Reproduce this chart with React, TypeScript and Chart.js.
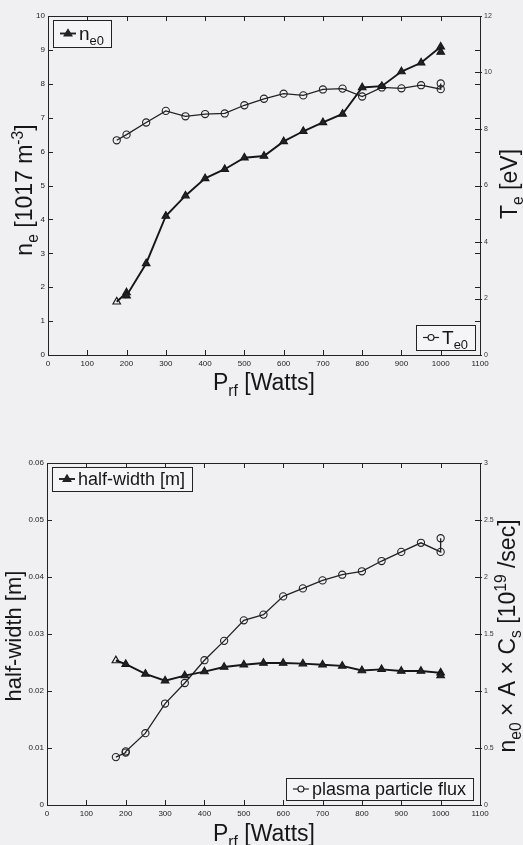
import React, { useEffect, useRef } from "react";
import { Chart, registerables } from "chart.js";

Chart.register(...registerables);

// ---------- data (top panel) ----------
const powerNe = [175, 200, 200, 250, 300, 350, 400, 450, 500, 550, 600, 650, 700, 750, 800, 850, 900, 950, 1000, 1000];
const ne0 = [1.57, 1.84, 1.75, 2.7, 4.1, 4.7, 5.21, 5.48, 5.82, 5.87, 6.3, 6.6, 6.86, 7.11, 7.89, 7.93, 8.36, 8.62, 9.09, 8.94];
const powerTe = [175, 200, 250, 300, 350, 400, 450, 500, 550, 600, 650, 700, 750, 800, 850, 900, 950, 1000, 1000];
const te0 = [7.6, 7.8, 8.23, 8.64, 8.45, 8.53, 8.55, 8.84, 9.07, 9.25, 9.19, 9.4, 9.43, 9.15, 9.47, 9.44, 9.55, 9.41, 9.61];

// ---------- data (bottom panel) ----------
const powerHw = [175, 200, 250, 300, 350, 400, 450, 500, 550, 600, 650, 700, 750, 800, 850, 900, 950, 1000, 1000];
const halfWidth = [0.02535, 0.0247, 0.023, 0.0218, 0.0227, 0.0234, 0.0242, 0.0246, 0.0249, 0.0249, 0.0248, 0.0246, 0.0244, 0.0236, 0.0238, 0.0235, 0.0235, 0.0232, 0.0227];
const powerFlux = [175, 200, 200, 250, 300, 350, 400, 450, 500, 550, 600, 650, 700, 750, 800, 850, 900, 950, 1000, 1000];
const flux = [0.42, 0.46, 0.47, 0.63, 0.89, 1.07, 1.27, 1.44, 1.62, 1.67, 1.83, 1.9, 1.97, 2.02, 2.05, 2.14, 2.22, 2.3, 2.22, 2.34];

// ---------- tick values ----------
const xTickVals = [0, 100, 200, 300, 400, 500, 600, 700, 800, 900, 1000, 1100];
const neTickVals = [0, 1, 2, 3, 4, 5, 6, 7, 8, 9, 10];
const teTickVals = [0, 2, 4, 6, 8, 10, 12];
const hwTickVals = [0, 0.01, 0.02, 0.03, 0.04, 0.05, 0.06];
const fluxTickVals = [0, 0.5, 1, 1.5, 2, 2.5, 3];

const FONT = '"Liberation Sans", Arial, Helvetica, sans-serif';
const BG = "#f0f0f2";
const INK = "#161616";

type Part = { t: string; s?: "sub" | "sup" };

function partSize(p: Part, size: number) {
  return p.s ? size * 0.68 : size;
}
function setFont(ctx: CanvasRenderingContext2D, size: number) {
  ctx.font = `${size}px ${FONT}`;
}
function richWidth(ctx: CanvasRenderingContext2D, parts: Part[], size: number) {
  let w = 0;
  for (const p of parts) {
    setFont(ctx, partSize(p, size));
    w += ctx.measureText(p.t).width;
  }
  return w;
}
function drawRich(ctx: CanvasRenderingContext2D, parts: Part[], x: number, y: number, size: number, align: "left" | "center") {
  let cx = align === "center" ? x - richWidth(ctx, parts, size) / 2 : x;
  ctx.textAlign = "left";
  ctx.textBaseline = "alphabetic";
  ctx.fillStyle = INK;
  for (const p of parts) {
    const s = partSize(p, size);
    setFont(ctx, s);
    const dy = p.s === "sub" ? size * 0.24 : p.s === "sup" ? -size * 0.38 : 0;
    ctx.fillText(p.t, cx, y + dy);
    cx += ctx.measureText(p.t).width;
  }
}

function drawMarker(ctx: CanvasRenderingContext2D, kind: "tri" | "circ", x: number, y: number) {
  ctx.beginPath();
  if (kind === "tri") {
    const r = 4.2;
    ctx.moveTo(x, y - r);
    ctx.lineTo(x + r * 0.95, y + r * 0.6);
    ctx.lineTo(x - r * 0.95, y + r * 0.6);
    ctx.closePath();
    ctx.fillStyle = "#222";
    ctx.fill();
    ctx.stroke();
  } else {
    ctx.arc(x, y, 3, 0, Math.PI * 2);
    ctx.fillStyle = "#f5f5f7";
    ctx.fill();
    ctx.stroke();
  }
}

type LegendSpec = {
  corner: "tl" | "br";
  ox: number;
  oy: number;
  h: number;
  size: number;
  parts: Part[];
  marker: "tri" | "circ";
  lineW: number;
};

type TitleSpec = { parts: Part[]; size: number; x: number; y: number; rotate: boolean };

function makeFramePlugin(legends: LegendSpec[], titles: TitleSpec[]) {
  return {
    id: "frame",
    beforeDraw(chart: any) {
      const { ctx, width, height } = chart;
      ctx.save();
      ctx.fillStyle = BG;
      ctx.fillRect(0, 0, width, height);
      ctx.restore();
    },
    afterDraw(chart: any) {
      const { ctx, chartArea: a, scales } = chart;
      ctx.save();
      ctx.strokeStyle = "#222";
      ctx.lineWidth = 1;
      ctx.strokeRect(Math.round(a.left) + 0.5, Math.round(a.top) + 0.5, Math.round(a.width), Math.round(a.height));
      const line = (x1: number, y1: number, x2: number, y2: number) => {
        ctx.beginPath();
        ctx.moveTo(x1, y1);
        ctx.lineTo(x2, y2);
        ctx.stroke();
      };
      const T = 5;
      for (const t of scales.x.ticks) {
        const px = Math.round(scales.x.getPixelForValue(t.value)) + 0.5;
        line(px, a.bottom, px, a.bottom - T);
        line(px, a.top, px, a.top + T);
      }
      for (const t of scales.y.ticks) {
        const py = Math.round(scales.y.getPixelForValue(t.value)) + 0.5;
        line(a.left, py, a.left + T, py);
        line(a.right, py, a.right - T, py);
      }
      for (const t of scales.y2.ticks) {
        const py = Math.round(scales.y2.getPixelForValue(t.value)) + 0.5;
        line(a.right - T, py, a.right + 2, py);
      }
      // legends
      for (const L of legends) {
        const tw = richWidth(ctx, L.parts, L.size);
        const w = 26 + tw + 7;
        const bx = L.corner === "tl" ? a.left + L.ox : a.right - L.ox - w;
        const by = L.corner === "tl" ? a.top + L.oy : a.bottom - L.oy - L.h;
        ctx.fillStyle = "#f5f5f7";
        ctx.fillRect(bx, by, w, L.h);
        ctx.strokeStyle = "#222";
        ctx.lineWidth = 1;
        ctx.strokeRect(Math.round(bx) + 0.5, Math.round(by) + 0.5, Math.round(w), L.h);
        const my = by + L.h / 2;
        ctx.lineWidth = L.lineW;
        line(bx + 7, my, bx + 23, my);
        ctx.lineWidth = 1.1;
        drawMarker(ctx, L.marker, bx + 15, my);
        drawRich(ctx, L.parts, bx + 26, my + L.size * 0.35, L.size, "left");
      }
      // axis titles
      for (const t of titles) {
        if (t.rotate) {
          ctx.save();
          ctx.translate(t.x, t.y);
          ctx.rotate(-Math.PI / 2);
          drawRich(ctx, t.parts, 0, 0, t.size, "center");
          ctx.restore();
        } else {
          drawRich(ctx, t.parts, t.x, t.y, t.size, "center");
        }
      }
      ctx.restore();
    },
  };
}

const tickFont = { family: FONT, size: 8 };
const tickFontSmall = { family: FONT, size: 7 };

function fixedTicks(vals: number[]) {
  return (scale: any) => {
    scale.ticks = vals.map((v) => ({ value: v }));
  };
}

function makeConfig(p: {
  datasets: any[];
  yMax: number;
  y2Max: number;
  yTicks: number[];
  y2Ticks: number[];
  yFmt: (v: number) => string;
  y2Fmt: (v: number) => string;
  padTop: number;
  xH: number;
  yW: number;
  y2W: number;
  plugin: any;
}) {
  return {
    type: "line" as const,
    data: { datasets: p.datasets },
    options: {
      responsive: false,
      animation: false as const,
      layout: { padding: { top: p.padTop, left: 0, right: 0, bottom: 0 } },
      plugins: { legend: { display: false }, tooltip: { enabled: false }, title: { display: false } },
      elements: { line: { tension: 0 } },
      scales: {
        x: {
          type: "linear" as const,
          min: 0,
          max: 1100,
          grid: { display: false, drawTicks: false },
          border: { display: false },
          afterBuildTicks: fixedTicks(xTickVals),
          afterFit: (s: any) => {
            s.height = p.xH;
          },
          ticks: { font: tickFont, color: "#222", padding: 4, maxRotation: 0, autoSkip: false, callback: (v: any) => String(v) },
        },
        y: {
          type: "linear" as const,
          position: "left" as const,
          min: 0,
          max: p.yMax,
          grid: { display: false, drawTicks: false },
          border: { display: false },
          afterBuildTicks: fixedTicks(p.yTicks),
          afterFit: (s: any) => {
            s.width = p.yW;
          },
          ticks: { font: tickFont, color: "#222", padding: 3, autoSkip: false, callback: (v: any) => p.yFmt(Number(v)) },
        },
        y2: {
          type: "linear" as const,
          position: "right" as const,
          min: 0,
          max: p.y2Max,
          grid: { display: false, drawTicks: false },
          border: { display: false },
          afterBuildTicks: fixedTicks(p.y2Ticks),
          afterFit: (s: any) => {
            s.width = p.y2W;
          },
          ticks: { font: tickFontSmall, color: "#333", padding: 4, autoSkip: false, callback: (v: any) => p.y2Fmt(Number(v)) },
        },
      },
    },
    plugins: [p.plugin],
  };
}

function pts(xs: number[], ys: number[]) {
  return xs.map((x, i) => ({ x, y: ys[i] }));
}

const triStyle = {
  borderColor: INK,
  borderWidth: 1.9,
  pointStyle: "triangle",
  pointRadius: 4.4,
  pointBorderWidth: 1.1,
  pointBorderColor: INK,
  pointBackgroundColor: (c: any) => (c.dataIndex === 0 ? "rgba(0,0,0,0)" : "#222"),
};
const circStyle = {
  borderColor: "#222",
  borderWidth: 1.3,
  pointStyle: "circle",
  pointRadius: 3.6,
  pointBorderWidth: 1.1,
  pointBorderColor: "#222",
  pointBackgroundColor: "rgba(0,0,0,0)",
};

export default function App() {
  const topRef = useRef<HTMLCanvasElement | null>(null);
  const botRef = useRef<HTMLCanvasElement | null>(null);

  useEffect(() => {
    if (!topRef.current || !botRef.current) return;

    const topPlugin = makeFramePlugin(
      [
        { corner: "tl", ox: 5, oy: 4, h: 27, size: 19, parts: [{ t: "n" }, { t: "e0", s: "sub" }], marker: "tri", lineW: 1.9 },
        { corner: "br", ox: 5, oy: 5, h: 25, size: 19, parts: [{ t: "T" }, { t: "e0", s: "sub" }], marker: "circ", lineW: 1.2 },
      ],
      [
        { parts: [{ t: "P" }, { t: "rf", s: "sub" }, { t: " [Watts]" }], size: 23, x: 264, y: 390, rotate: false },
        { parts: [{ t: "n" }, { t: "e", s: "sub" }, { t: " [1017 m" }, { t: "-3", s: "sup" }, { t: "]" }], size: 23, x: 32, y: 190, rotate: true },
        { parts: [{ t: "T" }, { t: "e", s: "sub" }, { t: " [eV]" }], size: 23, x: 517, y: 184, rotate: true },
      ]
    );

    const botPlugin = makeFramePlugin(
      [
        { corner: "tl", ox: 5, oy: 4, h: 24, size: 18, parts: [{ t: "half-width [m]" }], marker: "tri", lineW: 1.9 },
        { corner: "br", ox: 7, oy: 5, h: 22, size: 18, parts: [{ t: "plasma particle flux" }], marker: "circ", lineW: 1.2 },
      ],
      [
        { parts: [{ t: "P" }, { t: "rf", s: "sub" }, { t: " [Watts]" }], size: 23, x: 264, y: 421, rotate: false },
        { parts: [{ t: "half-width [m]" }], size: 22, x: 21, y: 216, rotate: true },
        {
          parts: [{ t: "n" }, { t: "e0", s: "sub" }, { t: " × A × C" }, { t: "s", s: "sub" }, { t: " [10" }, { t: "19", s: "sup" }, { t: " /sec]" }],
          size: 23,
          x: 515,
          y: 216,
          rotate: true,
        },
      ]
    );

    const top = new Chart(
      topRef.current,
      makeConfig({
        datasets: [
          { label: "ne0", data: pts(powerNe, ne0), yAxisID: "y", ...triStyle },
          { label: "Te0", data: pts(powerTe, te0), yAxisID: "y2", ...circStyle },
        ],
        yMax: 10,
        y2Max: 12,
        yTicks: neTickVals,
        y2Ticks: teTickVals,
        yFmt: (v) => String(v),
        y2Fmt: (v) => String(v),
        padTop: 16,
        xH: 65,
        yW: 48,
        y2W: 43,
        plugin: topPlugin,
      }) as any
    );

    const bot = new Chart(
      botRef.current,
      makeConfig({
        datasets: [
          { label: "half-width [m]", data: pts(powerHw, halfWidth), yAxisID: "y", ...triStyle },
          { label: "plasma particle flux", data: pts(powerFlux, flux), yAxisID: "y2", ...circStyle },
        ],
        yMax: 0.06,
        y2Max: 3,
        yTicks: hwTickVals,
        y2Ticks: fluxTickVals,
        yFmt: (v) => (v === 0 ? "0" : v.toFixed(2)),
        y2Fmt: (v) => String(v),
        padTop: 43,
        xH: 40,
        yW: 47,
        y2W: 43,
        plugin: botPlugin,
      }) as any
    );

    return () => {
      top.destroy();
      bot.destroy();
    };
  }, []);

  return (
    <div style={{ position: "absolute", left: 0, top: 0, width: 523, height: 845, background: BG, overflow: "hidden" }}>
      <canvas ref={topRef} width={523} height={420} style={{ display: "block", width: 523, height: 420 }} />
      <canvas ref={botRef} width={523} height={425} style={{ display: "block", width: 523, height: 425 }} />
    </div>
  );
}
